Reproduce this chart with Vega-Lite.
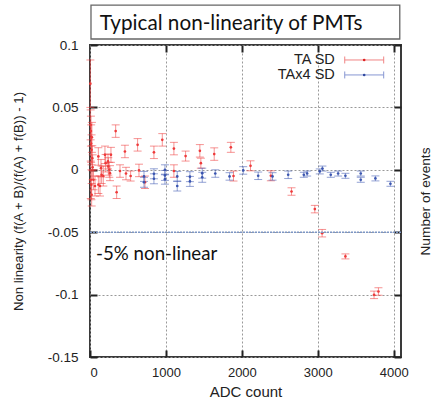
{
  "$schema": "https://vega.github.io/schema/vega-lite/v6.json",
  "width": 311,
  "height": 312,
  "autosize": "none",
  "padding": {"left": 90, "top": 45, "right": 30, "bottom": 50},
  "background": "white",
  "config": {
    "view": {"stroke": "#3a3a3a", "strokeWidth": 2},
    "font": "Liberation Sans",
    "axis": {
      "labelFont": "Liberation Sans",
      "titleFont": "Liberation Sans",
      "labelFontSize": 13,
      "titleFontSize": 13,
      "titleFontWeight": "normal",
      "labelColor": "#222",
      "titleColor": "#222",
      "tickColor": "#222",
      "tickWidth": 2,
      "domain": false
    }
  },
  "datasets": {
    "pmt": [
      {"series": "TA SD", "adc": 5, "nl": 0.069, "err": 0.019},
      {"series": "TA SD", "adc": 8, "nl": 0.036, "err": 0.012},
      {"series": "TA SD", "adc": 12, "nl": 0.031, "err": 0.012},
      {"series": "TA SD", "adc": 15, "nl": 0.021, "err": 0.015},
      {"series": "TA SD", "adc": 20, "nl": 0.016, "err": 0.012},
      {"series": "TA SD", "adc": 25, "nl": 0.026, "err": 0.012},
      {"series": "TA SD", "adc": 30, "nl": 0.0093, "err": 0.010},
      {"series": "TA SD", "adc": 10, "nl": -0.008, "err": 0.015},
      {"series": "TA SD", "adc": 18, "nl": -0.012, "err": 0.012},
      {"series": "TA SD", "adc": 22, "nl": -0.020, "err": 0.009},
      {"series": "TA SD", "adc": 35, "nl": 0.002, "err": 0.010},
      {"series": "TA SD", "adc": 45, "nl": -0.008, "err": 0.008},
      {"series": "TA SD", "adc": 66, "nl": -0.013, "err": 0.008},
      {"series": "TA SD", "adc": 110, "nl": 0.0107, "err": 0.007},
      {"series": "TA SD", "adc": 110, "nl": -0.012, "err": 0.007},
      {"series": "TA SD", "adc": 145, "nl": 0.0013, "err": 0.007},
      {"series": "TA SD", "adc": 153, "nl": -0.004, "err": 0.007},
      {"series": "TA SD", "adc": 132, "nl": -0.013, "err": 0.008},
      {"series": "TA SD", "adc": 175, "nl": -0.005, "err": 0.008},
      {"series": "TA SD", "adc": 197, "nl": 0.012, "err": 0.007},
      {"series": "TA SD", "adc": 206, "nl": 0.0053, "err": 0.007},
      {"series": "TA SD", "adc": 241, "nl": 0.0027, "err": 0.007},
      {"series": "TA SD", "adc": 237, "nl": 0.0067, "err": 0.006},
      {"series": "TA SD", "adc": 276, "nl": 0.012, "err": 0.006},
      {"series": "TA SD", "adc": 254, "nl": 0.0, "err": 0.006},
      {"series": "TA SD", "adc": 263, "nl": -0.0027, "err": 0.006},
      {"series": "TA SD", "adc": 338, "nl": 0.031, "err": 0.005},
      {"series": "TA SD", "adc": 351, "nl": -0.018, "err": 0.005},
      {"series": "TA SD", "adc": 395, "nl": -0.001, "err": 0.005},
      {"series": "TA SD", "adc": 460, "nl": 0.0147, "err": 0.005},
      {"series": "TA SD", "adc": 474, "nl": -0.003, "err": 0.005},
      {"series": "TA SD", "adc": 535, "nl": -0.005, "err": 0.004},
      {"series": "TA SD", "adc": 627, "nl": 0.020, "err": 0.005},
      {"series": "TA SD", "adc": 645, "nl": -0.0005, "err": 0.005},
      {"series": "TA SD", "adc": 724, "nl": -0.010, "err": 0.005},
      {"series": "TA SD", "adc": 842, "nl": 0.014, "err": 0.005},
      {"series": "TA SD", "adc": 952, "nl": 0.024, "err": 0.005},
      {"series": "TA SD", "adc": 1105, "nl": 0.017, "err": 0.005},
      {"series": "TA SD", "adc": 1105, "nl": -0.001, "err": 0.005},
      {"series": "TA SD", "adc": 1259, "nl": 0.011, "err": 0.004},
      {"series": "TA SD", "adc": 1447, "nl": 0.0152, "err": 0.005},
      {"series": "TA SD", "adc": 1460, "nl": 0.0053, "err": 0.004},
      {"series": "TA SD", "adc": 1636, "nl": 0.0126, "err": 0.005},
      {"series": "TA SD", "adc": 1855, "nl": 0.018, "err": 0.004},
      {"series": "TA SD", "adc": 1890, "nl": -0.005, "err": 0.004},
      {"series": "TA SD", "adc": 2114, "nl": 0.0032, "err": 0.004},
      {"series": "TA SD", "adc": 2382, "nl": -0.0048, "err": 0.004},
      {"series": "TA SD", "adc": 2654, "nl": -0.0174, "err": 0.003},
      {"series": "TA SD", "adc": 2961, "nl": -0.0315, "err": 0.003},
      {"series": "TA SD", "adc": 3057, "nl": -0.0508, "err": 0.003},
      {"series": "TA SD", "adc": 3364, "nl": -0.0694, "err": 0.002},
      {"series": "TA SD", "adc": 3741, "nl": -0.1002, "err": 0.003},
      {"series": "TA SD", "adc": 3799, "nl": -0.0975, "err": 0.003},
      {"series": "TAx4 SD", "adc": 711, "nl": -0.0053, "err": 0.004},
      {"series": "TAx4 SD", "adc": 711, "nl": -0.010, "err": 0.004},
      {"series": "TAx4 SD", "adc": 842, "nl": -0.0032, "err": 0.004},
      {"series": "TAx4 SD", "adc": 842, "nl": -0.0072, "err": 0.004},
      {"series": "TAx4 SD", "adc": 987, "nl": 0.0, "err": 0.004},
      {"series": "TAx4 SD", "adc": 987, "nl": -0.0045, "err": 0.004},
      {"series": "TAx4 SD", "adc": 987, "nl": -0.0075, "err": 0.004},
      {"series": "TAx4 SD", "adc": 1149, "nl": -0.0053, "err": 0.004},
      {"series": "TAx4 SD", "adc": 1149, "nl": -0.013, "err": 0.004},
      {"series": "TAx4 SD", "adc": 1316, "nl": -0.0093, "err": 0.004},
      {"series": "TAx4 SD", "adc": 1316, "nl": -0.0055, "err": 0.004},
      {"series": "TAx4 SD", "adc": 1478, "nl": -0.0027, "err": 0.004},
      {"series": "TAx4 SD", "adc": 1478, "nl": -0.006, "err": 0.004},
      {"series": "TAx4 SD", "adc": 1650, "nl": -0.003, "err": 0.003},
      {"series": "TAx4 SD", "adc": 1838, "nl": -0.0053, "err": 0.003},
      {"series": "TAx4 SD", "adc": 2018, "nl": -0.0005, "err": 0.003},
      {"series": "TAx4 SD", "adc": 2215, "nl": -0.0048, "err": 0.003},
      {"series": "TAx4 SD", "adc": 2404, "nl": -0.0053, "err": 0.003},
      {"series": "TAx4 SD", "adc": 2610, "nl": -0.004, "err": 0.003},
      {"series": "TAx4 SD", "adc": 2816, "nl": -0.004, "err": 0.002},
      {"series": "TAx4 SD", "adc": 2860, "nl": -0.003, "err": 0.002},
      {"series": "TAx4 SD", "adc": 3026, "nl": -0.0013, "err": 0.002},
      {"series": "TAx4 SD", "adc": 3061, "nl": 0.001, "err": 0.002},
      {"series": "TAx4 SD", "adc": 3171, "nl": -0.004, "err": 0.002},
      {"series": "TAx4 SD", "adc": 3268, "nl": -0.003, "err": 0.002},
      {"series": "TAx4 SD", "adc": 3364, "nl": -0.0048, "err": 0.002},
      {"series": "TAx4 SD", "adc": 3566, "nl": -0.003, "err": 0.002},
      {"series": "TAx4 SD", "adc": 3566, "nl": -0.008, "err": 0.002},
      {"series": "TAx4 SD", "adc": 3759, "nl": -0.0069, "err": 0.002},
      {"series": "TAx4 SD", "adc": 3957, "nl": -0.0112, "err": 0.002}
    ],
    "one": [{}]
  },
  "layer": [
    {
      "layer": [
        {
          "data": {"name": "pmt"},
          "mark": {"type": "errorbar", "ticks": {"size": 8, "thickness": 1}, "thickness": 1, "opacity": 0.55},
          "encoding": {
            "x": {
              "field": "adc", "type": "quantitative",
              "scale": {"domain": [0, 4096], "nice": false, "zero": false},
              "axis": {
                "orient": "bottom", "values": [0, 1000, 2000, 3000, 4000], "format": "d",
                "title": "ADC count", "titleFontSize": 15, "titlePadding": 5, "labelPadding": 16,
                "tickSize": -7, "grid": true, "gridColor": "#999", "gridDash": [2, 2], "gridWidth": 1
              }
            },
            "y": {
              "field": "nl", "type": "quantitative",
              "scale": {"domain": [-0.15, 0.1], "nice": false, "zero": false},
              "axis": {
                "orient": "left", "values": [-0.15, -0.1, -0.05, 0, 0.05, 0.1],
                "labelExpr": "'' + datum.value", "labelFontSize": 13.5,
                "title": "Non linearity (f(A + B)/(f(A) + f(B)) - 1)",
                "titleFontSize": 13.2, "titlePadding": 22, "labelPadding": 19,
                "tickSize": -7, "grid": true, "gridColor": "#999", "gridDash": [2, 2], "gridWidth": 1
              }
            },
            "yError": {"field": "err"},
            "color": {
              "field": "series", "type": "nominal",
              "scale": {"domain": ["TA SD", "TAx4 SD"], "range": ["#ee3a3a", "#3a55b0"]},
              "legend": null
            }
          }
        },
        {
          "data": {"name": "pmt"},
          "mark": {"type": "point", "filled": true, "size": 7, "opacity": 1},
          "encoding": {
            "x": {"field": "adc", "type": "quantitative"},
            "y": {"field": "nl", "type": "quantitative"},
            "color": {
              "field": "series", "type": "nominal",
              "scale": {"domain": ["TA SD", "TAx4 SD"], "range": ["#dd2222", "#2f48a0"]},
              "legend": null
            }
          }
        },
        {
          "data": {"name": "one"},
          "mark": {"type": "rule", "color": "#7d96c4", "strokeWidth": 1.5, "strokeDash": [2, 1]},
          "encoding": {
            "y": {"datum": -0.05, "type": "quantitative"}
          }
        },
        {
          "data": {"name": "one"},
          "mark": {"type": "text", "font": "Lato", "fontSize": 18.7, "align": "left", "baseline": "middle", "color": "#111"},
          "encoding": {
            "x": {"datum": 80, "type": "quantitative"},
            "y": {"datum": -0.0675, "type": "quantitative"},
            "text": {"value": "-5% non-linear"}
          }
        },
        {
          "data": {"name": "one"},
          "mark": {"type": "rect", "fill": "white", "fillOpacity": 0, "stroke": "#666", "strokeWidth": 1.3},
          "encoding": {
            "x": {"datum": 13, "type": "quantitative"},
            "x2": {"datum": 4080},
            "y": {"datum": 0.1048, "type": "quantitative"},
            "y2": {"datum": 0.132}
          }
        },
        {
          "data": {"name": "one"},
          "mark": {"type": "text", "font": "Lato", "fontSize": 20.7, "align": "left", "baseline": "alphabetic", "color": "#111"},
          "encoding": {
            "x": {"datum": 130, "type": "quantitative"},
            "y": {"datum": 0.1123, "type": "quantitative"},
            "text": {"value": "Typical non-linearity of PMTs"}
          }
        },
        {
          "data": {"name": "one"},
          "mark": {"type": "text", "fontSize": 14.5, "align": "right", "baseline": "middle", "color": "#222"},
          "encoding": {
            "x": {"datum": 3224, "type": "quantitative"},
            "y": {"datum": 0.088, "type": "quantitative"},
            "text": {"value": "TA SD"}
          }
        },
        {
          "data": {"name": "one"},
          "mark": {"type": "text", "fontSize": 14.5, "align": "right", "baseline": "middle", "color": "#222"},
          "encoding": {
            "x": {"datum": 3224, "type": "quantitative"},
            "y": {"datum": 0.076, "type": "quantitative"},
            "text": {"value": "TAx4 SD"}
          }
        },
        {
          "data": {"name": "one"},
          "mark": {"type": "rule", "color": "#f08585", "strokeWidth": 1},
          "encoding": {
            "x": {"datum": 3355, "type": "quantitative"},
            "x2": {"datum": 3868},
            "y": {"datum": 0.088, "type": "quantitative"}
          }
        },
        {
          "data": {"name": "one"},
          "mark": {"type": "rule", "color": "#f08585", "strokeWidth": 1},
          "encoding": {
            "x": {"datum": 3355, "type": "quantitative"},
            "y": {"datum": 0.0852, "type": "quantitative"},
            "y2": {"datum": 0.0908}
          }
        },
        {
          "data": {"name": "one"},
          "mark": {"type": "rule", "color": "#f08585", "strokeWidth": 1},
          "encoding": {
            "x": {"datum": 3868, "type": "quantitative"},
            "y": {"datum": 0.0852, "type": "quantitative"},
            "y2": {"datum": 0.0908}
          }
        },
        {
          "data": {"name": "one"},
          "mark": {"type": "point", "filled": true, "size": 7, "color": "#dd2222", "opacity": 1},
          "encoding": {
            "x": {"datum": 3611, "type": "quantitative"},
            "y": {"datum": 0.088, "type": "quantitative"}
          }
        },
        {
          "data": {"name": "one"},
          "mark": {"type": "rule", "color": "#8797d2", "strokeWidth": 1},
          "encoding": {
            "x": {"datum": 3355, "type": "quantitative"},
            "x2": {"datum": 3868},
            "y": {"datum": 0.076, "type": "quantitative"}
          }
        },
        {
          "data": {"name": "one"},
          "mark": {"type": "rule", "color": "#8797d2", "strokeWidth": 1},
          "encoding": {
            "x": {"datum": 3355, "type": "quantitative"},
            "y": {"datum": 0.0732, "type": "quantitative"},
            "y2": {"datum": 0.0788}
          }
        },
        {
          "data": {"name": "one"},
          "mark": {"type": "rule", "color": "#8797d2", "strokeWidth": 1},
          "encoding": {
            "x": {"datum": 3868, "type": "quantitative"},
            "y": {"datum": 0.0732, "type": "quantitative"},
            "y2": {"datum": 0.0788}
          }
        },
        {
          "data": {"name": "one"},
          "mark": {"type": "point", "filled": true, "size": 7, "color": "#2f48a0", "opacity": 1},
          "encoding": {
            "x": {"datum": 3611, "type": "quantitative"},
            "y": {"datum": 0.076, "type": "quantitative"}
          }
        }
      ]
    },
    {
      "data": {"name": "one"},
      "mark": {"type": "point", "opacity": 0},
      "encoding": {
        "x": {
          "datum": 0, "type": "quantitative",
          "scale": {"domain": [0, 4096], "nice": false, "zero": false},
          "axis": {"orient": "top", "values": [1000, 2000, 3000, 4000], "labels": false, "title": null, "tickSize": -7, "grid": false}
        },
        "y": {
          "datum": 0, "type": "quantitative",
          "scale": {"domain": [-0.15, 0.1], "nice": false, "zero": false},
          "axis": {
            "orient": "right", "values": [-0.15, -0.1, -0.05, 0, 0.05, 0.1], "labels": false,
            "title": "Number of events", "titleAngle": 270, "titlePadding": 30, "titleFontSize": 13.7,
            "tickSize": -7, "grid": false
          }
        }
      }
    }
  ],
  "resolve": {"scale": {"x": "independent", "y": "independent"}}
}
